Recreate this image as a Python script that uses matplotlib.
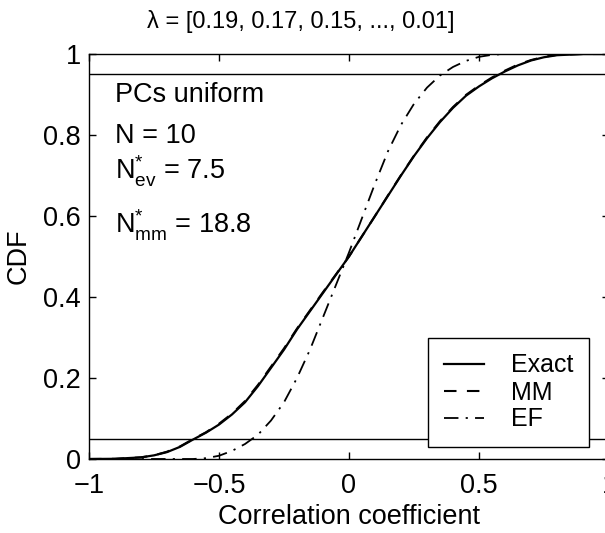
import matplotlib
matplotlib.use('Agg')
import matplotlib.pyplot as plt

plt.rcParams['font.family'] = ['Liberation Sans', 'DejaVu Sans']
plt.rcParams['mathtext.fontset'] = 'custom'
plt.rcParams['mathtext.rm'] = 'Liberation Sans'
plt.rcParams['mathtext.it'] = 'Liberation Sans:italic'
plt.rcParams['font.size'] = 19.5

# valeurs
x_exact = [-1.0, -0.9, -0.8, -0.75, -0.7, -0.65, -0.6, -0.55, -0.5, -0.45, -0.4, -0.35,
           -0.3, -0.25, -0.2, -0.15, -0.1, -0.05, 0.0, 0.05, 0.1, 0.15, 0.2, 0.25, 0.3,
           0.35, 0.4, 0.45, 0.5, 0.55, 0.6, 0.65, 0.7, 0.75, 0.8, 0.9, 1.0]
y_exact = [0.0, 0.0005, 0.004, 0.009, 0.017, 0.03, 0.048, 0.065, 0.085, 0.11, 0.14, 0.18,
           0.225, 0.27, 0.32, 0.365, 0.41, 0.455, 0.5, 0.55, 0.6, 0.65, 0.7, 0.748, 0.792,
           0.832, 0.867, 0.897, 0.92, 0.94, 0.957, 0.972, 0.984, 0.992, 0.997, 1.0, 1.0]

x_mm = [-1.0, -0.9, -0.8, -0.75, -0.7, -0.65, -0.6, -0.55, -0.5, -0.45, -0.4, -0.35,
        -0.3, -0.25, -0.2, -0.15, -0.1, -0.05, 0.0, 0.05, 0.1, 0.15, 0.2, 0.25, 0.3,
        0.35, 0.4, 0.45, 0.5, 0.55, 0.6, 0.65, 0.7, 0.75, 0.8, 0.9, 1.0]
y_mm = [0.0, 0.0004, 0.004, 0.009, 0.018, 0.031, 0.049, 0.066, 0.087, 0.112, 0.143, 0.183,
        0.228, 0.273, 0.322, 0.367, 0.412, 0.456, 0.5, 0.55, 0.6, 0.651, 0.701, 0.749, 0.794,
        0.834, 0.869, 0.899, 0.922, 0.942, 0.959, 0.974, 0.985, 0.993, 0.998, 1.0, 1.0]

x_ef = [-1.0, -0.6, -0.55, -0.5, -0.45, -0.4, -0.35, -0.3, -0.25, -0.2, -0.15, -0.1,
        -0.05, 0.0, 0.05, 0.1, 0.15, 0.2, 0.25, 0.3, 0.35, 0.4, 0.45, 0.5, 0.55, 0.6, 1.0]
y_ef = [0.0, 0.0, 0.002, 0.008, 0.02, 0.037, 0.06, 0.095, 0.14, 0.2, 0.27, 0.35,
        0.43, 0.51, 0.595, 0.68, 0.76, 0.825, 0.877, 0.917, 0.947, 0.968, 0.983, 0.993,
        0.998, 1.0, 1.0]

ref_levels = [0.05, 0.95]
xticks = [-1, -0.5, 0, 0.5, 1]
xtick_labels = ['\u22121', '\u22120.5', '0', '0.5', '1']
yticks = [0, 0.2, 0.4, 0.6, 0.8, 1]
ytick_labels = ['0', '0.2', '0.4', '0.6', '0.8', '1']

W, H = 605, 533
fig = plt.figure(figsize=(W / 100, H / 100), dpi=100)
ax = fig.add_axes([89 / W, 1 - 459 / H, (609 - 89) / W, (459 - 54) / H])

for lev in ref_levels:
    ax.axhline(lev, color='k', linewidth=1.0)

ax.plot(x_exact, y_exact, color='k', linewidth=1.6, linestyle='-', label='Exact')
ax.plot(x_mm, y_mm, color='k', linewidth=1.5, linestyle=(0, (6, 5)), label='MM')
ax.plot(x_ef, y_ef, color='k', linewidth=1.3, linestyle=(0, (8, 4, 1.2, 4)), label='EF')

ax.set_xlim(-1, 1)
ax.set_ylim(0, 1)
ax.set_xticks(xticks)
ax.set_xticklabels(xtick_labels)
ax.set_yticks(yticks)
ax.set_yticklabels(ytick_labels)
ax.tick_params(direction='in', length=5, width=1, top=True, right=True)
ax.tick_params(axis='x', pad=10)
ax.tick_params(axis='y', pad=6)
for sp in ax.spines.values():
    sp.set_linewidth(1.0)

ax.set_xlabel('Correlation coefficient', labelpad=4)
ax.set_ylabel('CDF', labelpad=8)

ax.text(-0.9, 0.881, 'PCs uniform', va='baseline')
ax.text(-0.9, 0.780, 'N = 10', va='baseline')
ax.text(-0.9, 0.689, r'$\mathrm{N}^{*}_{\mathrm{ev}}$ = 7.5', va='baseline')
ax.text(-0.9, 0.558, r'$\mathrm{N}^{*}_{\mathrm{mm}}$ = 18.8', va='baseline')

fig.text(301 / W, 1 - 28 / H, '\u03bb = [0.19, 0.17, 0.15, ..., 0.01]',
         ha='center', va='baseline', fontsize=17)

leg = ax.legend(loc='lower right', bbox_to_anchor=(589 / W, 1 - 447 / H),
                bbox_transform=fig.transFigure, borderaxespad=0, fancybox=False,
                framealpha=1, edgecolor='k', handlelength=1.6, handletextpad=1.1,
                labelspacing=0.12, borderpad=0.62, fontsize=18)
leg.get_frame().set_linewidth(1.0)

fig.savefig('out.png', dpi=100)
